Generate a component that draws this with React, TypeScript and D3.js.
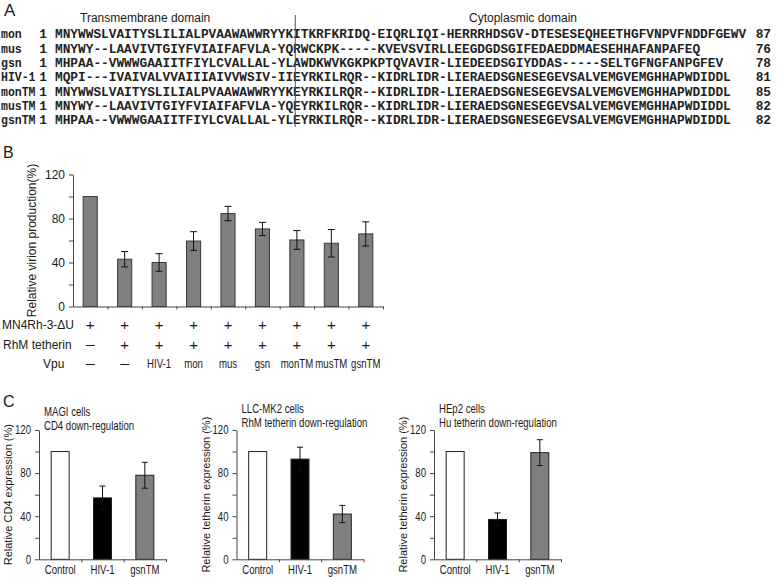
import * as d3 from "d3";
import React, { useEffect, useRef } from "react";

// A: Vpu sequence alignment
const seqNames = ["mon", "mus", "gsn", "HIV-1", "monTM", "musTM", "gsnTM"];
const seqTexts = [
  "MNYWWSLVAITYSLILIALPVAAWAWWRYYKITKRFKRIDQ-EIQRLIQI-HERRRHDSGV-DTESESEQHEETHGFVNPVFNDDFGEWV",
  "MNYWY--LAAVIVTGIYFVIAIFAFVLA-YQRWCKPK-----KVEVSVIRLLEEGDGDSGIFEDAEDDMAESEHHAFANPAFEQ",
  "MHPAA--VWWWGAAIITFIYLCVALLAL-YLAWDKWVKGKPKPTQVAVIR-LIEDEEDSGIYDDAS-----SELTGFNGFANPGFEV",
  "MQPI---IVAIVALVVAIIIAIVVWSIV-IIEYRKILRQR--KIDRLIDR-LIERAEDSGNESEGEVSALVEMGVEMGHHAPWDIDDL",
  "MNYWWSLVAITYSLILIALPVAAWAWWRYYKEYRKILRQR--KIDRLIDR-LIERAEDSGNESEGEVSALVEMGVEMGHHAPWDIDDL",
  "MNYWY--LAAVIVTGIYFVIAIFAFVLA-YQEYRKILRQR--KIDRLIDR-LIERAEDSGNESEGEVSALVEMGVEMGHHAPWDIDDL",
  "MHPAA--VWWWGAAIITFIYLCVALLAL-YLEYRKILRQR--KIDRLIDR-LIERAEDSGNESEGEVSALVEMGVEMGHHAPWDIDDL",
];
const seqEnds = [87, 76, 78, 81, 85, 82, 82];
const tmColumns = 31;

// B: virion production
const mn4Row = ["+", "+", "+", "+", "+", "+", "+", "+", "+"];
const tetherinRow = ["—", "+", "+", "+", "+", "+", "+", "+", "+"];
const vpuRow = ["—", "—", "HIV-1", "mon", "mus", "gsn", "monTM", "musTM", "gsnTM"];
const virionValues = [100, 43, 40, 59.5, 84.5, 70.5, 60.5, 57.5, 66];
const virionErrors = [0, 7, 8, 8.5, 6.5, 6, 8.5, 12.5, 11];

// C: down-regulation assays
const cCategories = ["Control", "HIV-1", "gsnTM"];
const cd4Values = [100, 57, 78];
const cd4Errors = [0, 11, 12];
const rhmValues = [100, 93, 42];
const rhmErrors = [0, 11, 8];
const huValues = [100, 37, 99];
const huErrors = [0, 6, 12];
const cFills = ["#ffffff", "#000000", "#808080"];
const cTitles = [
  ["MAGI cells", "CD4 down-regulation"],
  ["LLC-MK2 cells", "RhM tetherin down-regulation"],
  ["HEp2 cells", "Hu tetherin down-regulation"],
];
const cYLabels = [
  "Relative CD4 expression (%)",
  "Relative tetherin expression (%)",
  "Relative tetherin expression (%)",
];
const yTicks = [0, 20, 40, 60, 80, 100, 120];

const sans = "'Liberation Sans', Arial, sans-serif";
const mono = "'Liberation Mono', 'Courier New', monospace";
const ink = "#1a1a1a";

const Figure = () => {
  const svgRef = useRef<SVGSVGElement>(null);

  useEffect(() => {
    const svg = d3.select(svgRef.current);
    svg.selectAll("*").remove();

    const label = (x, y, txt, size, anchor = "start", sx = 1) =>
      svg
        .append("text")
        .attr("transform", `translate(${x},${y}) scale(${sx},1)`)
        .attr("text-anchor", anchor)
        .attr("fill", ink)
        .style("font-family", sans)
        .style("font-size", `${size}px`)
        .text(txt);

    // ---- Panel A ----
    label(4, 16, "A", 17);
    label(80, 22, "Transmembrane domain", 12);
    label(469, 22, "Cytoplasmic domain", 12);

    const charW = 7.67;
    const seqX0 = 55;
    const rowY = d3.scalePoint().domain(seqNames).range([38.3, 124.3]);

    const rows = svg
      .append("g")
      .style("font-family", mono)
      .style("font-weight", "bold")
      .style("font-size", "12.8px")
      .attr("fill", "#222");

    seqNames.forEach((name, i) => {
      const y = rowY(name);
      rows.append("text")
        .attr("transform", `translate(1,${y}) scale(0.9,1)`)
        .text(name);
      rows.append("text").attr("x", 43).attr("y", y).attr("text-anchor", "middle").text("1");
      rows.append("text").attr("x", seqX0).attr("y", y).text(seqTexts[i]);
      rows.append("text").attr("x", 771).attr("y", y).attr("text-anchor", "end").text(seqEnds[i]);
    });

    const divX = seqX0 + tmColumns * charW + 2.5;
    svg
      .append("line")
      .attr("x1", divX)
      .attr("x2", divX)
      .attr("y1", 15)
      .attr("y2", 127)
      .attr("stroke", "#555")
      .attr("stroke-width", 1);

    // ---- Panel B ----
    label(3, 158, "B", 16);
    const yB = d3.scaleLinear().domain([0, 120]).range([306.5, 174.5]);
    const xB = d3
      .scaleBand<number>()
      .domain(d3.range(virionValues.length))
      .range([73, 383])
      .paddingInner(0.59)
      .paddingOuter(0.295);
    const idxB = d3.scaleLinear().domain([0, virionValues.length]).range([73, 383]);

    const drawYAxis = (x, scale, size, sx) => {
      const g = svg
        .append("g")
        .attr("transform", `translate(${x},0)`)
        .call(
          d3
            .axisLeft(scale)
            .tickValues(yTicks)
            .tickSize(4)
            .tickSizeOuter(0)
            .tickPadding(4)
            .tickFormat((d) => (d % 40 === 0 ? String(d) : ""))
        );
      g.select(".domain").attr("stroke", "#444");
      g.selectAll(".tick line").attr("stroke", "#444");
      g.selectAll(".tick text")
        .attr("fill", ink)
        .style("font-family", sans)
        .style("font-size", `${size}px`)
        .attr("transform", `scale(${sx},1)`)
        .attr("x", -8 / sx);
    };

    const drawXAxis = (y, scale, n) => {
      const g = svg
        .append("g")
        .attr("transform", `translate(0,${y})`)
        .call(
          d3
            .axisBottom(scale)
            .tickValues(d3.range(1, n + 1))
            .tickSize(3)
            .tickSizeOuter(0)
            .tickFormat(() => "")
        );
      g.select(".domain").attr("stroke", "#444");
      g.selectAll(".tick line").attr("stroke", "#444");
    };

    const drawBars = (xs, ys, values, errors, fills, stroke, capW) => {
      const g = svg.append("g");
      const bw = xs.bandwidth();
      values.forEach((v, i) => {
        const x = xs(i);
        g.append("rect")
          .attr("x", x)
          .attr("y", ys(v))
          .attr("width", bw)
          .attr("height", ys(0) - ys(v))
          .attr("fill", fills[i])
          .attr("stroke", stroke)
          .attr("stroke-width", 1);
        const e = errors[i];
        if (e > 0) {
          const cx = x + bw / 2;
          const col = "#111";
          g.append("line").attr("x1", cx).attr("x2", cx).attr("y1", ys(v - e)).attr("y2", ys(v + e)).attr("stroke", col);
          [v - e, v + e].forEach((t) =>
            g.append("line")
              .attr("x1", cx - capW / 2)
              .attr("x2", cx + capW / 2)
              .attr("y1", ys(t))
              .attr("y2", ys(t))
              .attr("stroke", col)
          );
        }
      });
    };

    drawBars(xB, yB, virionValues, virionErrors, virionValues.map(() => "#7f7f7f"), "#3a3a3a", 7);
    drawXAxis(yB(0), idxB, virionValues.length);
    drawYAxis(73, yB, 12, 1);

    label(0, 0, "Relative virion production(%)", 12, "middle").attr(
      "transform",
      "translate(36,240.5) rotate(-90)"
    );

    const centerB = (i) => xB(i) + xB.bandwidth() / 2;
    label(2, 329, "MN4Rh-3-ΔU", 12);
    mn4Row.forEach((s, i) => label(centerB(i), 330, s, 15, "middle"));
    label(3, 349, "RhM tetherin", 12);
    tetherinRow.forEach((s, i) =>
      s === "+" ? label(centerB(i), 350, s, 15, "middle") : label(centerB(i), 349, s, 12, "middle", 0.75)
    );
    label(43, 368, "Vpu", 12);
    vpuRow.forEach((s, i) => label(centerB(i), 368, s, 12, "middle", s === "—" ? 0.75 : 0.8));

    // ---- Panel C ----
    label(3, 407, "C", 16);
    const yC = d3.scaleLinear().domain([0, 120]).range([559.3, 430]);
    const cValues = [cd4Values, rhmValues, huValues];
    const cErrors = [cd4Errors, rhmErrors, huErrors];

    cValues.forEach((vals, k) => {
      const ax = 39 + k * 197.5;
      const xC = d3
        .scaleBand<number>()
        .domain(d3.range(cCategories.length))
        .range([ax, ax + 127])
        .paddingInner(0.575)
        .paddingOuter(0.2875);
      const idxC = d3.scaleLinear().domain([0, cCategories.length]).range([ax, ax + 127]);

      drawBars(xC, yC, vals, cErrors[k], cFills, "#222", 6);
      drawXAxis(yC(0), idxC, cCategories.length);
      drawYAxis(ax, yC, 12, 0.8);

      const tOff = k === 0 ? 3 : 0;
      label(ax + 5, 413 + tOff, cTitles[k][0], 12, "start", 0.8);
      label(ax + 5, 427 + tOff, cTitles[k][1], 12, "start", 0.8);
      label(0, 0, cYLabels[k], 11, "middle").attr(
        "transform",
        `translate(${ax - 27},${(yC(0) + yC(120)) / 2}) rotate(-90)`
      );
      cCategories.forEach((c, i) =>
        label(xC(i) + xC.bandwidth() / 2, 574, c, 12, "middle", 0.8)
      );
    });
  }, []);

  return (
    <svg
      ref={svgRef}
      width={777}
      height={577}
      style={{ position: "absolute", left: 0, top: 0, background: "#fff" }}
    />
  );
};

export default function App() {
  return <Figure />;
}
